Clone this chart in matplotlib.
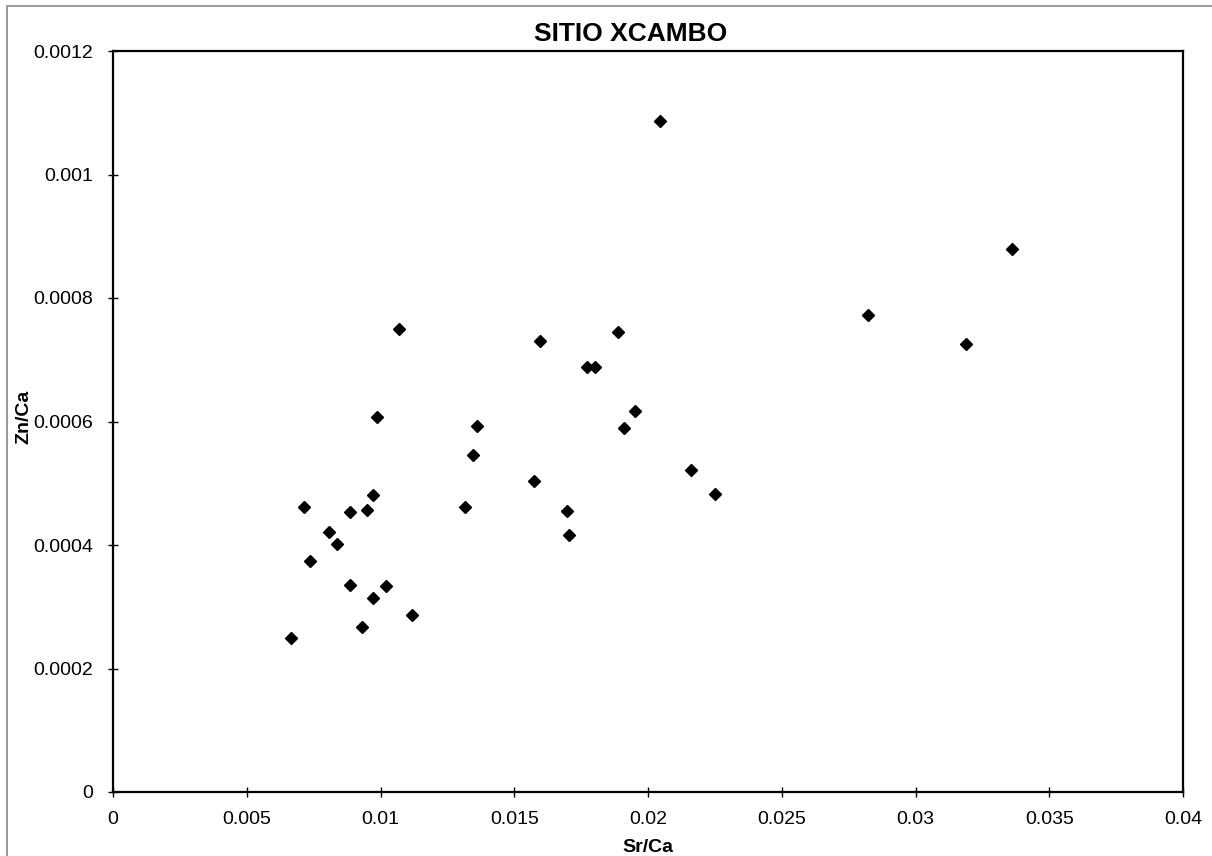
import matplotlib.pyplot as plt
import matplotlib.ticker as mtick
from matplotlib.patches import Rectangle

plt.rcParams["font.family"] = ["Liberation Sans", "DejaVu Sans"]

title = "SITIO XCAMBO"
x_label = "Sr/Ca"
y_label = "Zn/Ca"

sr_ca = [0.00664, 0.00715, 0.00735, 0.00808, 0.00837, 0.00885, 0.00886,
         0.00931, 0.00948, 0.00972, 0.00972, 0.00987, 0.01022, 0.0107,
         0.01116, 0.01316, 0.01345, 0.0136, 0.01572, 0.01598, 0.01698,
         0.01705, 0.01771, 0.01802, 0.01887, 0.01909, 0.01953, 0.02043,
         0.0216, 0.0225, 0.02824, 0.0319, 0.03361]
zn_ca = [0.000249, 0.000461, 0.000374, 0.000421, 0.000402, 0.000336, 0.000454,
         0.000268, 0.000456, 0.000481, 0.000314, 0.000607, 0.000334, 0.000750,
         0.000286, 0.000462, 0.000546, 0.000592, 0.000504, 0.000730, 0.000455,
         0.000417, 0.000689, 0.000689, 0.000745, 0.000590, 0.000617, 0.001087,
         0.000521, 0.000483, 0.000773, 0.000726, 0.000879]

x_ticks = [0, 0.005, 0.01, 0.015, 0.02, 0.025, 0.03, 0.035, 0.04]
y_ticks = [0, 0.0002, 0.0004, 0.0006, 0.0008, 0.001, 0.0012]

fig = plt.figure(figsize=(12.12, 8.56), dpi=100)
ax = fig.add_axes([113 / 1212, 1 - 792 / 856, 1070 / 1212, 741 / 856])

ax.plot(sr_ca, zn_ca, linestyle="none", marker="D", markersize=6.5,
        color="black", clip_on=False)

ax.set_xlim(0, 0.04)
ax.set_ylim(0, 0.0012)
ax.set_xticks(x_ticks)
ax.set_yticks(y_ticks)
fmt = mtick.FuncFormatter(lambda v, pos: f"{v:g}")
ax.xaxis.set_major_formatter(fmt)
ax.yaxis.set_major_formatter(fmt)
ax.tick_params(direction="inout", length=7, width=1, labelsize=14, color="black")
ax.tick_params(axis="x", pad=10)
ax.tick_params(axis="y", pad=11)

for side in ax.spines.values():
    side.set_linewidth(1.6)
    side.set_color("black")

ax.set_title(title, fontsize=19, fontweight="bold", pad=7, x=0.484)
ax.set_xlabel(x_label, fontsize=14, fontweight="bold", labelpad=8)
ax.set_ylabel(y_label, fontsize=14, fontweight="bold")
ax.yaxis.set_label_coords(-0.075, 0.506)

# thin grey frame around the whole chart area
fig.patches.append(Rectangle((7 / 1212, -0.01), 1.1, 1 - 6 / 856 + 0.01,
                             transform=fig.transFigure, fill=False,
                             edgecolor="#888888", linewidth=1.2))

fig.savefig("out.png", dpi=100)
